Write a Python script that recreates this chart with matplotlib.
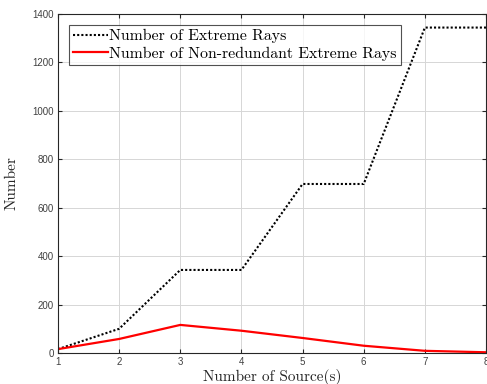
import matplotlib
matplotlib.use("Agg")
import matplotlib.pyplot as plt

sources = [1, 2, 3, 4, 5, 6, 7, 8]
extreme_rays = [16, 100, 343, 343, 698, 698, 1344, 1344]
nonredundant_rays = [16, 58, 116, 92, 62, 30, 9, 3]
yticks = [0, 200, 400, 600, 800, 1000, 1200, 1400]

fig = plt.figure(figsize=(4.87, 3.84), dpi=100)
ax = fig.add_axes([58/487, 31/384, 428/487, 339/384])

ax.plot(sources, extreme_rays, color='black', linestyle=(0, (1, 1)), linewidth=1.5,
        label='Number of Extreme Rays')
ax.plot(sources, nonredundant_rays, color='red', linestyle='-', linewidth=1.6,
        label='Number of Non-redundant Extreme Rays')

ax.set_xlim(1, 8)
ax.set_ylim(0, 1400)
ax.set_xticks(sources)
ax.set_yticks(yticks)
ax.grid(True, color='#d6d6d6', linewidth=0.7)
ax.set_axisbelow(True)
ax.tick_params(direction='in', top=True, right=True, labelsize=7, length=3,
               colors='#262626', labelcolor='#404040', pad=3)
for lab in ax.get_xticklabels() + ax.get_yticklabels():
    lab.set_fontfamily('Liberation Sans')
for s in ax.spines.values():
    s.set_color('#262626')
    s.set_linewidth(0.8)

ax.set_xlabel('Number of Source(s)', fontfamily='cmr10', fontsize=11, labelpad=1, color='#262626')
ax.set_ylabel('Number', fontfamily='cmr10', fontsize=11, labelpad=10, color='#262626')

leg = ax.legend(loc='upper left', prop={'family': 'cmr10', 'size': 11.4},
                frameon=True, fancybox=False, edgecolor='#262626',
                handlelength=2.2, handletextpad=0.1, borderpad=0.25,
                labelspacing=0.2, borderaxespad=0.7)
leg.get_frame().set_linewidth(0.8)

fig.savefig('out.png', dpi=100)
